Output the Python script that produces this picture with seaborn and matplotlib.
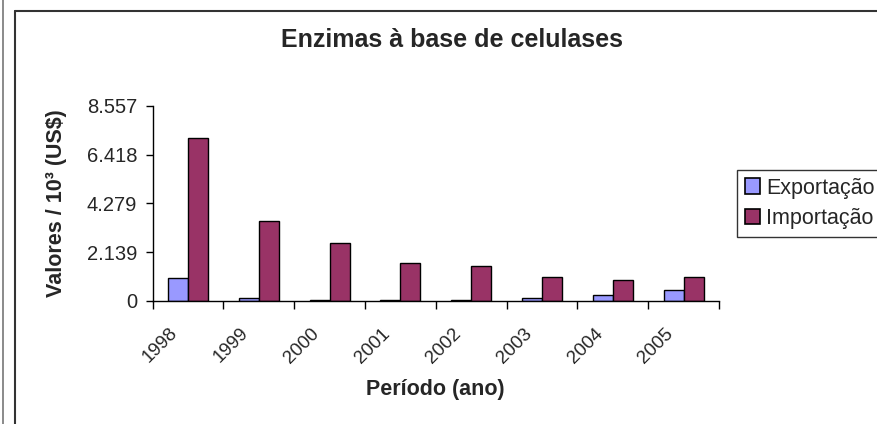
import numpy as np
import pandas as pd
import matplotlib
matplotlib.use("Agg")
import matplotlib.pyplot as plt
import matplotlib.transforms as mtransforms
from matplotlib.lines import Line2D
import seaborn as sns

# --- data ---
anos = ["1998", "1999", "2000", "2001", "2002", "2003", "2004", "2005"]
exportacao = [1022, 131, 58, 58, 58, 131, 277, 496]
importacao = [7128, 3520, 2556, 1665, 1519, 1037, 906, 1037]
series = ["Exportação", "Importação"]
y_ticks = [0, 2139, 4279, 6418, 8557]

COR_EXP = "#9999FF"
COR_IMP = "#993366"

df = pd.DataFrame({
    "ano": anos * 2,
    "serie": [series[0]] * len(anos) + [series[1]] * len(anos),
    "valor": exportacao + importacao,
})

sns.set_style("white")
plt.rcParams["font.family"] = ["Liberation Sans", "DejaVu Sans"]

W, H = 877, 424
fig = plt.figure(figsize=(W / 100, H / 100), dpi=100)
ax = fig.add_axes([152.5 / W, 1 - 301 / H, (719 - 152.5) / W, (301 - 105.7) / H])

sns.barplot(data=df, x="ano", y="valor", hue="serie", order=anos, hue_order=series,
            palette=[COR_EXP, COR_IMP], width=0.565, edgecolor="black", linewidth=1,
            saturation=1, ax=ax, legend=False)

# axis styling (Excel look)
ax.set_xlim(-0.5, len(anos) - 0.5)
ax.set_ylim(0, y_ticks[-1])
ax.set_yticks(y_ticks)
ax.set_yticklabels([f"{v:,}".replace(",", ".") for v in y_ticks], fontsize=14.5)
ax.tick_params(axis="y", direction="out", length=5, width=1, color="black", pad=6, left=True)

ax.set_xticks(range(len(anos)))
ax.set_xticklabels(anos, rotation=45, ha="right", va="center", rotation_mode="anchor", fontsize=13.5)
ax.set_xticks(np.arange(-0.5, len(anos)), minor=True)
ax.tick_params(axis="x", which="major", length=0, pad=16)
ax.tick_params(axis="x", which="minor", direction="out", length=6, width=1, color="black", bottom=True)

# nudge the rotated year labels to where Excel puts them
shift = mtransforms.ScaledTranslation(-12.8 / 100, -7.5 / 100, fig.dpi_scale_trans)
for lab in ax.get_xticklabels():
    lab.set_transform(lab.get_transform() + shift)

for s in ["top", "right"]:
    ax.spines[s].set_visible(False)
for s in ["left", "bottom"]:
    ax.spines[s].set_color("black")
    ax.spines[s].set_linewidth(1)

ax.set_xlabel("Período (ano)", fontsize=15.5, fontweight="bold")
ax.xaxis.set_label_coords(0.5, -(379 - 301) / (301 - 105.7))
ax.set_ylabel("Valores / 10³ (US$)", fontsize=15.5, fontweight="bold", labelpad=14)

fig.text(452 / W, 1 - 40 / H, "Enzimas à base de celulases", ha="center", va="center",
         fontsize=18, fontweight="bold")

# legend (runs off the right edge like the original)
handles = [plt.Rectangle((0, 0), 1, 1, facecolor=c, edgecolor="black", linewidth=1.2)
           for c in (COR_EXP, COR_IMP)]
fig.legend(handles, series, loc="upper left", bbox_to_anchor=(737 / W, 1 - 170 / H),
           bbox_transform=fig.transFigure, fontsize=15.5, frameon=True, fancybox=False,
           edgecolor="black", handlelength=0.7, handleheight=0.7, handletextpad=0.3,
           labelspacing=0.45, borderpad=0.35, borderaxespad=0)

# outer chart frame
frame = dict(transform=fig.transFigure, color="#333333", linewidth=1.5)
fig.add_artist(Line2D([15 / W, 1], [1 - 11 / H, 1 - 11 / H], **frame))
fig.add_artist(Line2D([15 / W, 15 / W], [0, 1 - 11 / H], **frame))
fig.add_artist(Line2D([3 / W, 3 / W], [0, 1], transform=fig.transFigure, color="#777777", linewidth=1.2))

fig.savefig("out.png", dpi=100)
